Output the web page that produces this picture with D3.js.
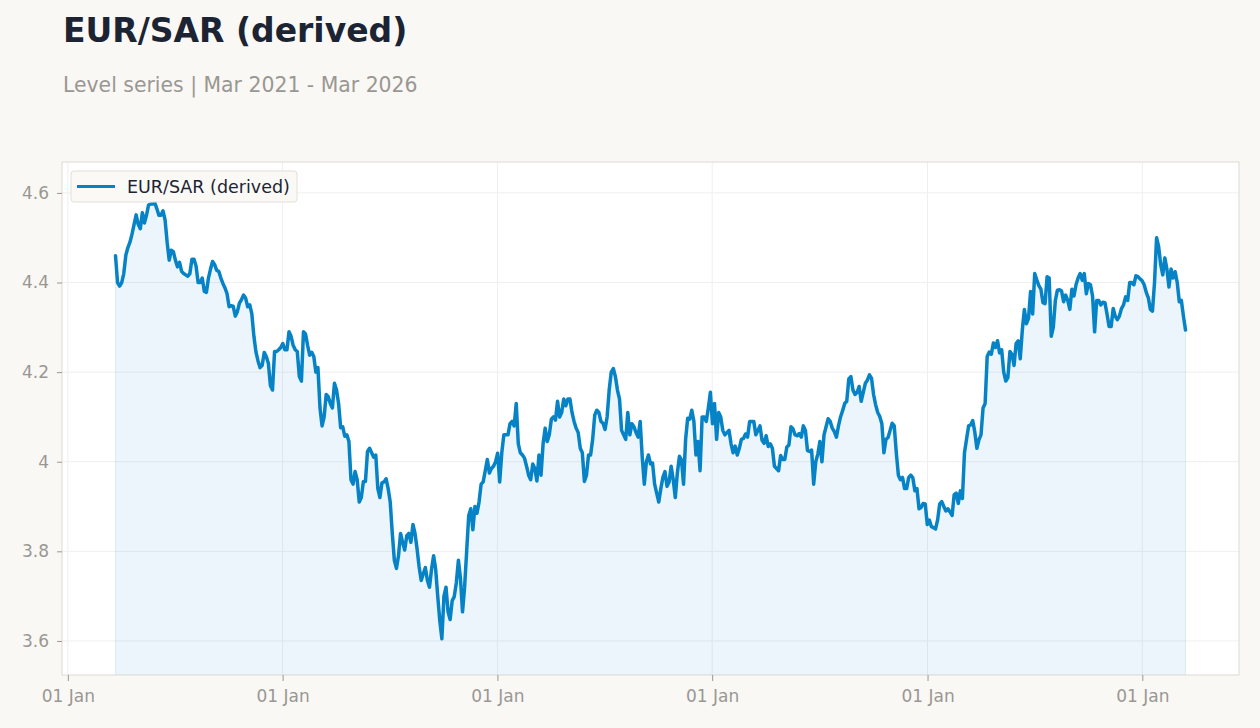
<!DOCTYPE html>
<html lang="en">
<head>
    <meta charset="UTF-8">
    <title>EUR/SAR (derived)</title>
    <script src="https://d3js.org/d3.v7.min.js"></script>
    <style>
        body {
            margin: 0;
            background-color: #f9f8f5;
        }
        svg {
            display: block;
            font-family: "DejaVu Sans", sans-serif;
        }
    </style>
</head>
<body>
<svg id="chart" width="1260" height="728"></svg>
<script>
    // closes roughly twice a week, first one on 23 Mar 2021
    const seriesName = "EUR/SAR (derived)";
    const firstObs = "2021-03-23";
    const stepHours = 84.25;
    const values = [
        4.46, 4.40, 4.392, 4.40, 4.42, 4.461, 4.478, 4.49, 4.508, 4.53,
        4.551, 4.53, 4.52, 4.556, 4.533, 4.55, 4.573, 4.575, 4.575, 4.578,
        4.565, 4.55, 4.55, 4.56, 4.54, 4.49, 4.45, 4.472, 4.469, 4.45,
        4.435, 4.445, 4.425, 4.42, 4.417, 4.414, 4.42, 4.452, 4.452, 4.437,
        4.40, 4.40, 4.41, 4.38, 4.378, 4.41, 4.43, 4.447, 4.44, 4.427,
        4.425, 4.41, 4.398, 4.388, 4.375, 4.346, 4.348, 4.347, 4.325, 4.335,
        4.354, 4.362, 4.372, 4.365, 4.346, 4.35, 4.33, 4.28, 4.245, 4.225,
        4.21, 4.215, 4.244, 4.235, 4.22, 4.17, 4.16, 4.246, 4.246, 4.25,
        4.255, 4.264, 4.25, 4.25, 4.29, 4.28, 4.26, 4.25, 4.246, 4.19,
        4.18, 4.29, 4.285, 4.26, 4.238, 4.244, 4.235, 4.20, 4.21, 4.12,
        4.08, 4.10, 4.15, 4.145, 4.13, 4.12, 4.175, 4.16, 4.13, 4.076,
        4.078, 4.057, 4.06, 4.045, 3.96, 3.95, 3.978, 3.96, 3.91, 3.92,
        3.956, 3.956, 4.023, 4.03, 4.02, 4.01, 4.015, 3.94, 3.92, 3.953,
        3.955, 3.962, 3.94, 3.91, 3.84, 3.78, 3.762, 3.79, 3.84, 3.82,
        3.803, 3.835, 3.84, 3.82, 3.86, 3.84, 3.805, 3.765, 3.735, 3.75,
        3.764, 3.735, 3.72, 3.76, 3.79, 3.76, 3.70, 3.645, 3.605, 3.70,
        3.72, 3.665, 3.648, 3.69, 3.699, 3.73, 3.78, 3.74, 3.665, 3.72,
        3.80, 3.88, 3.895, 3.848, 3.90, 3.885, 3.91, 3.95, 3.955, 3.98,
        4.005, 3.975, 3.985, 3.99, 4.0, 4.019, 3.955, 4.02, 4.06, 4.06,
        4.06, 4.085, 4.09, 4.08, 4.13, 4.04, 4.02, 4.015, 4.008, 3.99,
        3.97, 3.96, 3.995, 3.985, 3.957, 4.015, 3.97, 4.04, 4.075, 4.045,
        4.06, 4.095, 4.10, 4.093, 4.135, 4.10, 4.11, 4.14, 4.125, 4.14,
        4.14, 4.11, 4.09, 4.075, 4.065, 4.03, 4.02, 3.956, 3.97, 4.015,
        4.015, 4.05, 4.104, 4.115, 4.11, 4.09, 4.086, 4.072, 4.10, 4.16,
        4.20, 4.208, 4.19, 4.16, 4.14, 4.07, 4.06, 4.05, 4.11, 4.06,
        4.085, 4.078, 4.065, 4.055, 4.09, 4.01, 3.95, 4.0, 4.015, 3.995,
        3.997, 3.95, 3.93, 3.91, 3.94, 3.965, 3.978, 3.945, 3.955, 3.99,
        3.96, 3.92, 3.975, 4.012, 4.004, 3.95, 4.05, 4.097, 4.095, 4.115,
        4.09, 4.015, 4.045, 3.98, 4.10, 4.10, 4.09, 4.12, 4.155, 4.085,
        4.13, 4.05, 4.11, 4.10, 4.07, 4.06, 4.065, 4.07, 4.04, 4.02,
        4.035, 4.015, 4.03, 4.05, 4.052, 4.062, 4.055, 4.09, 4.09, 4.09,
        4.06, 4.07, 4.08, 4.048, 4.041, 4.058, 4.034, 4.04, 4.03, 3.99,
        3.985, 3.98, 4.014, 4.005, 4.005, 4.033, 4.037, 4.078, 4.073, 4.06,
        4.058, 4.063, 4.055, 4.08, 4.07, 4.025, 4.023, 4.026, 3.95, 4.00,
        4.017, 4.045, 4.00, 4.06, 4.078, 4.096, 4.09, 4.075, 4.067, 4.055,
        4.08, 4.10, 4.114, 4.13, 4.135, 4.185, 4.19, 4.16, 4.15, 4.155,
        4.168, 4.135, 4.155, 4.175, 4.182, 4.194, 4.186, 4.15, 4.127, 4.11,
        4.101, 4.085, 4.02, 4.05, 4.054, 4.07, 4.086, 4.08, 4.02, 3.97,
        3.96, 3.965, 3.94, 3.94, 3.965, 3.97, 3.964, 3.935, 3.94, 3.895,
        3.898, 3.907, 3.906, 3.86, 3.87, 3.855, 3.853, 3.85, 3.87, 3.906,
        3.911, 3.90, 3.89, 3.895, 3.888, 3.88, 3.926, 3.93, 3.907, 3.935,
        3.918, 4.02, 4.05, 4.08, 4.082, 4.092, 4.066, 4.03, 4.049, 4.06,
        4.12, 4.13, 4.235, 4.245, 4.24, 4.265, 4.255, 4.27, 4.243, 4.25,
        4.20, 4.18, 4.188, 4.246, 4.24, 4.215, 4.264, 4.27, 4.23, 4.294,
        4.34, 4.308, 4.32, 4.38, 4.33, 4.42, 4.406, 4.393, 4.385, 4.355,
        4.353, 4.413, 4.41, 4.28, 4.30, 4.36, 4.383, 4.384, 4.381, 4.357,
        4.372, 4.36, 4.34, 4.385, 4.37, 4.395, 4.41, 4.42, 4.405, 4.42,
        4.375, 4.398, 4.395, 4.37, 4.29, 4.36, 4.36, 4.35, 4.356, 4.355,
        4.33, 4.302, 4.302, 4.342, 4.325, 4.317, 4.325, 4.342, 4.35, 4.368,
        4.36, 4.40, 4.40, 4.395, 4.415, 4.413, 4.408, 4.404, 4.395, 4.378,
        4.366, 4.34, 4.336, 4.40, 4.50, 4.48, 4.44, 4.417, 4.455, 4.43,
        4.39, 4.43, 4.41, 4.424, 4.40, 4.357, 4.36, 4.325, 4.294
    ];
    const yTicks = [3.6, 3.8, 4, 4.2, 4.4, 4.6];

    const start = d3.timeParse("%Y-%m-%d")(firstObs);
    const data = values.map((v, i) => ({date: new Date(+start + stepHours * i * 36e5), value: v}));

    const width = 1260;
    const margin = {top: 162, right: 21, bottom: 53, left: 62};
    const plotW = width - margin.left - margin.right;
    const plotH = 728 - margin.top - margin.bottom;
    const blue = "#0683c6";
    const grey = "#9a9792";

    const svg = d3.select("#chart");

    svg.append("text")
        .attr("x", 63).attr("y", 42)
        .attr("font-size", 33).attr("font-weight", "bold")
        .attr("fill", "#1c2433")
        .text(seriesName);

    svg.append("text")
        .attr("x", 63).attr("y", 92)
        .attr("font-size", 20.4)
        .attr("fill", grey)
        .text("Level series | Mar 2021 - Mar 2026");

    // 5% padding either side of the data
    const ext = d3.extent(data, d => d.date);
    const pad = (ext[1] - ext[0]) * 0.05;
    const x = d3.scaleTime()
        .domain([new Date(+ext[0] - pad), new Date(+ext[1] + pad)])
        .range([0, plotW]);
    const y = d3.scaleLinear()
        .domain([3.524, 4.669])
        .range([plotH, 0]);

    const g = svg.append("g")
        .attr("transform", `translate(${margin.left},${margin.top})`);

    g.append("rect")
        .attr("width", plotW).attr("height", plotH)
        .attr("fill", "#ffffff");

    g.append("clipPath").attr("id", "clip")
        .append("rect").attr("width", plotW).attr("height", plotH);

    const years = x.ticks(d3.timeYear.every(1));

    // grid
    g.append("g")
        .selectAll("line")
        .data(yTicks)
        .join("line")
        .attr("x1", 0).attr("x2", plotW)
        .attr("y1", d => y(d)).attr("y2", d => y(d))
        .attr("stroke", "#efefef");
    g.append("g")
        .selectAll("line")
        .data(years)
        .join("line")
        .attr("x1", d => x(d)).attr("x2", d => x(d))
        .attr("y1", 0).attr("y2", plotH)
        .attr("stroke", "#efefef");

    const plot = g.append("g").attr("clip-path", "url(#clip)");

    plot.append("path")
        .datum(data)
        .attr("fill", blue)
        .attr("fill-opacity", 0.08)
        .attr("stroke", blue)
        .attr("stroke-opacity", 0.1)
        .attr("d", d3.area()
            .x(d => x(d.date))
            .y0(plotH)
            .y1(d => y(d.value)));

    plot.append("path")
        .datum(data)
        .attr("fill", "none")
        .attr("stroke", blue)
        .attr("stroke-width", 3.5)
        .attr("stroke-linejoin", "round")
        .attr("stroke-linecap", "round")
        .attr("d", d3.line()
            .x(d => x(d.date))
            .y(d => y(d.value)));

    g.append("rect")
        .attr("width", plotW).attr("height", plotH)
        .attr("fill", "none")
        .attr("stroke", "#dedad4");

    // axes
    const yAxis = g.append("g")
        .call(d3.axisLeft(y).tickValues(yTicks).tickSize(5).tickPadding(8)
            .tickFormat(d3.format("~g")));
    const xAxis = g.append("g")
        .attr("transform", `translate(0,${plotH})`)
        .call(d3.axisBottom(x).tickValues(years).tickSize(6).tickPadding(9)
            .tickFormat(d3.timeFormat("%d %b")));

    [yAxis, xAxis].forEach(a => {
        a.select(".domain").remove();
        a.selectAll(".tick line").attr("stroke", grey);
        a.selectAll("text")
            .attr("fill", grey)
            .attr("font-size", 17)
            .attr("font-family", "DejaVu Sans, sans-serif");
    });

    // legend
    const legend = g.append("g").attr("transform", "translate(9,9)");
    legend.append("rect")
        .attr("width", 226).attr("height", 31).attr("rx", 3)
        .attr("fill", "#f9f8f5").attr("fill-opacity", 0.9)
        .attr("stroke", "#e3dfd9");
    legend.append("line")
        .attr("x1", 6).attr("x2", 44).attr("y1", 15.5).attr("y2", 15.5)
        .attr("stroke", blue).attr("stroke-width", 3);
    legend.append("text")
        .attr("x", 56).attr("y", 21.5)
        .attr("font-size", 17.5)
        .attr("fill", "#1c2433")
        .text(seriesName);
</script>
</body>
</html>
